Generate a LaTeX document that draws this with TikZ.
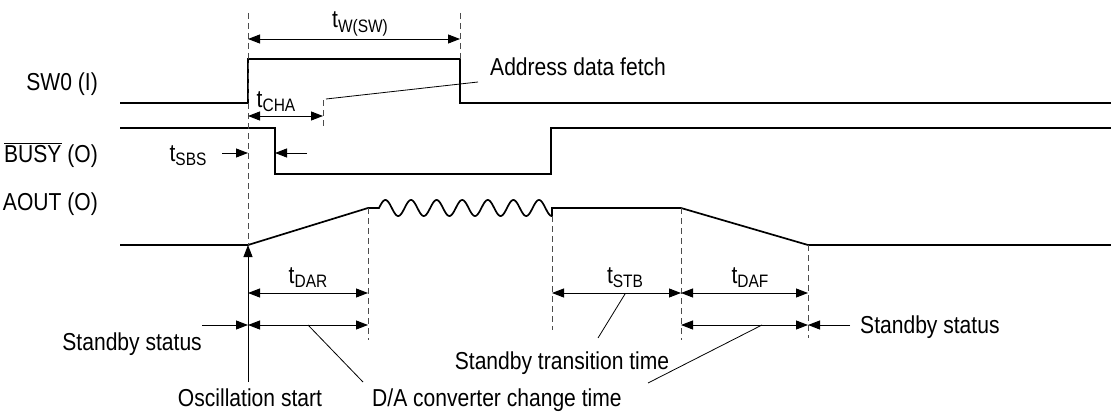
\documentclass[tikz,border=0pt]{standalone}
\usepackage{fontspec}
\setmainfont{Liberation Sans}[FakeStretch=0.86]
\usetikzlibrary{arrows.meta}
% time symbol with a lowered, smaller subscript
\newcommand{\tsym}[1]{t\raisebox{-4.5pt}{\fontsize{18}{18}\selectfont #1}}

\begin{document}
\begin{tikzpicture}[x=1pt,y=-1pt,
  signal/.style={line width=1.7pt, line join=miter},
  guide/.style={line width=1pt, dash pattern=on 6pt off 4pt, draw=black!70},
  tip/.tip={Triangle[length=12pt,width=9pt]},
  dim/.style={line width=0.9pt, tip-tip},
  pointer/.style={line width=0.9pt, -tip},
  leader/.style={line width=0.8pt},
  lbl/.style={inner sep=0pt, font=\fontsize{24.5}{24.5}\selectfont}]
\useasboundingbox (0,0) rectangle (1111,412);

% ---- signal names
\node[lbl, anchor=base east] (nsw)   at (98,91)  {SW0 (I)};
\node[lbl, anchor=base east] (nbusy) at (98,162) {$\overline{\mbox{BUSY}}$ (O)};
\node[lbl, anchor=base east] (naout) at (98,210) {AOUT (O)};

% ---- waveforms
\draw[signal] (120,103) -- (248,103) -- (248,59) -- (460,59) -- (460,103) -- (1111,103);
\draw[signal] (120,128) -- (275,128) -- (275,174) -- (551,174) -- (551,128) -- (1111,128);
% 25.6pt oscillation period: 360/25.6 = 14.0625 degrees per pt
\draw[signal] (120,245) -- (248,245) -- (368,208) -- (379,208)
  -- plot[domain=379:552, samples=240] (\x, {208-8*sin(14.0625*(\x-379))})
  -- (552,208) -- (681,208) -- (808,245) -- (1111,245);

% ---- event coordinates
\coordinate (e0top) at (248,13);   \coordinate (e0bot) at (248,245);
\coordinate (e4top) at (460,13);   \coordinate (e4bot) at (460,59);
\coordinate (e2top) at (323,100);  \coordinate (e2bot) at (323,128);
\coordinate (e3top) at (368,208);  \coordinate (e3bot) at (368,340);
\coordinate (e5top) at (552,216);  \coordinate (e5bot) at (552,330);
\coordinate (e6top) at (681,208);  \coordinate (e6bot) at (681,340);
\coordinate (e7top) at (808,245);  \coordinate (e7bot) at (808,338);

\draw[guide] (e0top) -- (e0bot);
\draw[guide] (e4top) -- (e4bot);
\draw[guide] (e2top) -- (e2bot);
\draw[guide] (e3top) -- (e3bot);
\draw[guide] (e5top) -- (e5bot);
\draw[guide] (e6top) -- (e6bot);
\draw[guide] (e7top) -- (e7bot);

% ---- t_W(SW)
\coordinate (tw1) at (248,39); \coordinate (tw2) at (460,39);
\draw[dim] (tw1) -- (tw2);
\node[lbl, anchor=base] (ltw) at (360,28) {\tsym{W(SW)}};

% ---- t_CHA and address fetch
\coordinate (ch1) at (248,116); \coordinate (ch2) at (323,116);
\draw[dim] (ch1) -- (ch2);
\node[lbl, anchor=base] (lcha) at (276,107) {\tsym{CHA}};
\coordinate (af1) at (326,99); \coordinate (af2) at (478,82);
\draw[leader] (af1) -- (af2);
\node[lbl, anchor=base west] (laf) at (490,76) {Address data fetch};

% ---- t_SBS
\coordinate (sb0) at (222,153); \coordinate (sb1) at (248,153);
\coordinate (sb2) at (275,153); \coordinate (sb3) at (307,153);
\draw[pointer] (sb0) -- (sb1);
\draw[pointer] (sb3) -- (sb2);
\node[lbl, anchor=base] (lsbs) at (188,161) {\tsym{SBS}};

% ---- lower dimensions
\coordinate (dr1) at (248,293); \coordinate (dr2) at (368,293);
\draw[dim] (dr1) -- (dr2);
\node[lbl, anchor=base] (ldar) at (308,283) {\tsym{DAR}};

\coordinate (st1) at (552,293); \coordinate (st2) at (681,293);
\draw[dim] (st1) -- (st2);
\node[lbl, anchor=base] (lstb) at (625,283) {\tsym{STB}};

\coordinate (df1) at (681,293); \coordinate (df2) at (808,293);
\draw[dim] (df1) -- (df2);
\node[lbl, anchor=base] (ldaf) at (750,283) {\tsym{DAF}};

\coordinate (ca1) at (248,325); \coordinate (ca2) at (368,325);
\draw[dim] (ca1) -- (ca2);
\coordinate (cb1) at (681,325); \coordinate (cb2) at (808,325);
\draw[dim] (cb1) -- (cb2);

% standby status markers
\coordinate (ss1) at (202,325);
\draw[pointer] (ss1) -- (ca1);
\node[lbl, anchor=base east] (lssl) at (202,350) {Standby status};
\coordinate (ss2) at (850,325);
\draw[pointer] (ss2) -- (cb2);
\node[lbl, anchor=base west] (lssr) at (860,333) {Standby status};

% oscillation start
\coordinate (os) at (248,382);
\draw[pointer] (os) -- (e0bot);
\node[lbl, anchor=base] (losc) at (250,406) {Oscillation start};

% leaders to bottom captions
\coordinate (la1) at (308,325); \coordinate (la2) at (363,382);
\draw[leader] (la1) -- (la2);
\coordinate (lb1) at (762,325); \coordinate (lb2) at (648,383);
\draw[leader] (lb1) -- (lb2);
\node[lbl, anchor=base west] (lda) at (372,406) {D/A converter change time};

\coordinate (lt1) at (625,294); \coordinate (lt2) at (598,338);
\draw[leader] (lt1) -- (lt2);
\node[lbl, anchor=base] (lstt) at (562,369) {Standby transition time};
\end{tikzpicture}
\end{document}
